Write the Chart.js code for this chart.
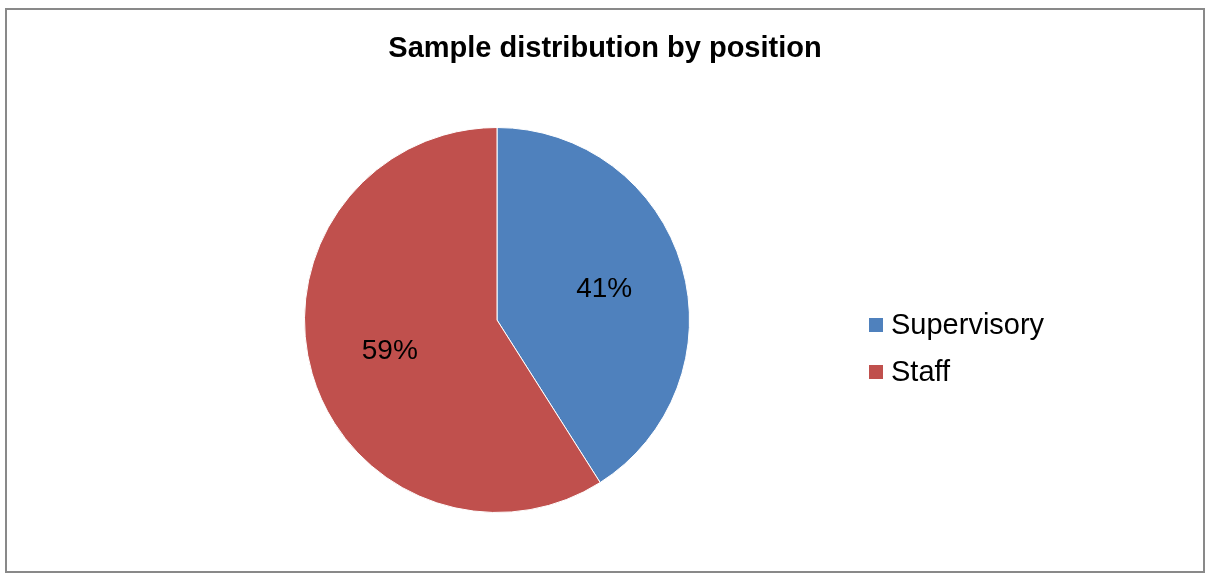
<!DOCTYPE html>
<html>
<head>
<meta charset="utf-8">
<title>Sample distribution by position</title>
<script src="https://cdn.jsdelivr.net/npm/chart.js@4/dist/chart.umd.min.js"></script>
<style>
  body { margin: 0; background: #fff; font-family: "Liberation Sans", Arial, sans-serif; }
  #frame {
    position: absolute; left: 5px; top: 8px;
    width: 1196px; height: 561px;
    border: 2px solid #898989;
  }
  #chart { position: absolute; left: 0; top: 0; }
  #title {
    position: absolute; left: 0; top: 20px; width: 100%;
    text-align: center; font-weight: bold; font-size: 29px; line-height: 34px;
    color: #000;
  }
  #legend { position: absolute; left: 862px; top: 291px; }
  #legend .item { display: flex; align-items: center; height: 47px; font-size: 29px; color: #000; }
  #legend .box { width: 14px; height: 14px; margin-right: 8px; }
</style>
</head>
<body>
<div id="frame">
  <canvas id="chart" width="1196" height="561"></canvas>
  <div id="title">Sample distribution by position</div>
  <div id="legend"></div>
</div>
<script>
const positions = ['Supervisory', 'Staff'];
const shares = [41, 59];
const colors = ['#4F81BD', '#C0504D'];

// percentage labels inside each slice
const sliceLabels = {
  id: 'sliceLabels',
  afterDatasetsDraw(chart) {
    const ctx = chart.ctx;
    const meta = chart.getDatasetMeta(0);
    ctx.save();
    ctx.font = '28px "Liberation Sans", Arial, sans-serif';
    ctx.fillStyle = '#000';
    ctx.textAlign = 'center';
    ctx.textBaseline = 'middle';
    meta.data.forEach((arc, i) => {
      const p = arc.getProps(['x', 'y', 'startAngle', 'endAngle', 'outerRadius'], true);
      const mid = (p.startAngle + p.endAngle) / 2;
      const r = p.outerRadius * 0.58;
      ctx.fillText(shares[i] + '%', p.x + Math.cos(mid) * r, p.y + Math.sin(mid) * r);
    });
    ctx.restore();
  }
};

const chart = new Chart(document.getElementById('chart'), {
  type: 'pie',
  data: {
    labels: positions,
    datasets: [{
      data: shares,
      backgroundColor: colors,
      borderColor: '#fff',
      borderWidth: 1
    }]
  },
  options: {
    responsive: false,
    animation: false,
    events: [],
    layout: { padding: { top: 117, bottom: 58, left: 297, right: 513 } },
    plugins: {
      legend: { display: false },
      title: { display: false },
      tooltip: { enabled: false }
    }
  },
  plugins: [sliceLabels]
});

// legend built from the chart's own legend items
const legendEl = document.getElementById('legend');
chart.options.plugins.legend.labels.generateLabels(chart).forEach(item => {
  const row = document.createElement('div');
  row.className = 'item';
  const box = document.createElement('span');
  box.className = 'box';
  box.style.background = item.fillStyle;
  row.appendChild(box);
  row.appendChild(document.createTextNode(item.text));
  legendEl.appendChild(row);
});
</script>
</body>
</html>
